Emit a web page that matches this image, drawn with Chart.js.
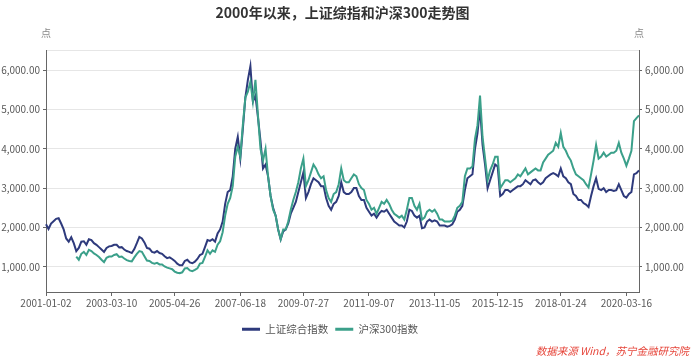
<!DOCTYPE html>
<html>
<head>
<meta charset="utf-8">
<script src="https://cdn.jsdelivr.net/npm/chart.js@4.4.1/dist/chart.umd.min.js"></script>
<style>
  html, body { margin: 0; padding: 0; background: #ffffff; }
  #wrap { width: 696px; height: 360px; position: relative; }
</style>
</head>
<body>
<div id="wrap"><canvas id="c"></canvas></div>
<script>
// ---- data (monthly readings, Jan 2001 .. Aug 2020) ----
const titleText = '2000年以来，上证综指和沪深300走势图';
const seriesNames = ['上证综合指数', '沪深300指数'];
const axisUnit = '点';
const sourceText = '数据来源 Wind，苏宁金融研究院';

const months = [];
for (let y = 2001; y <= 2020; y++) {
  for (let m = 1; m <= 12; m++) {
    if (y === 2020 && m > 8) break;
    months.push(y + '-' + String(m).padStart(2, '0'));
  }
}

const xTickLabels = ['2001-01-02', '2003-03-10', '2005-04-26', '2007-06-18', '2009-07-27',
                     '2011-09-07', '2013-11-05', '2015-12-15', '2018-01-24', '2020-03-16'];
const yTickValues = [1000, 2000, 3000, 4000, 5000, 6000];
const yMin = 360;
const yMax = 6510;

const shComposite = [
  // 2001
  2080, 1960, 2100, 2160, 2220, 2235, 2100, 1950, 1720, 1640, 1750, 1600,
  // 2002
  1400, 1480, 1640, 1650, 1560, 1700, 1680, 1600, 1560, 1500, 1440, 1380,
  // 2003
  1480, 1520, 1530, 1560, 1560, 1490, 1500, 1440, 1400, 1380, 1350, 1450,
  // 2004
  1600, 1760, 1720, 1620, 1480, 1460, 1380, 1360, 1400, 1350, 1330, 1270,
  // 2005
  1220, 1240, 1200, 1150, 1080, 1040, 1040, 1150, 1180, 1110, 1090, 1130,
  // 2006
  1200, 1300, 1330, 1500, 1680, 1660, 1700, 1640, 1850, 1950, 2150, 2600,
  // 2007
  2900, 2950, 3300, 4000, 4300, 3750, 4500, 5300, 5750, 6100, 5200, 5350,
  // 2008
  4800, 4200, 3500, 3600, 3300, 2800, 2500, 2300, 1950, 1700, 1900, 1950,
  // 2009
  2100, 2350, 2500, 2650, 2900, 3150, 3400, 2750, 2900, 3100, 3250, 3200,
  // 2010
  3150, 3050, 3050, 2750, 2550, 2450, 2600, 2650, 2800, 3150, 2900, 2850,
  // 2011
  2850, 2900, 3000, 3000, 2800, 2700, 2700, 2500, 2400, 2300, 2350, 2250,
  // 2012
  2350, 2420, 2400, 2450, 2350, 2250, 2150, 2100, 2050, 2050, 2000, 2150,
  // 2013
  2450, 2420, 2300, 2250, 2300, 1980, 2000, 2150, 2200, 2150, 2180, 2150,
  // 2014
  2050, 2050, 2050, 2020, 2040, 2080, 2200, 2400, 2450, 2550, 2950, 3250,
  // 2015
  3300, 3350, 4000, 4400, 5050, 4100, 3600, 3000, 3200, 3400, 3600, 3550,
  // 2016
  2800, 2850, 2950, 2950, 2900, 2950, 3000, 3050, 3050, 3100, 3200, 3150,
  // 2017
  3100, 3200, 3220, 3150, 3100, 3150, 3250, 3300, 3350, 3380, 3350, 3300,
  // 2018
  3500, 3300, 3250, 3150, 3100, 2850, 2800, 2700, 2700, 2620, 2580, 2520,
  // 2019
  2800, 3050, 3250, 2980, 2950, 3000, 2900, 2950, 2950, 2930, 2950, 3100,
  // 2020
  2950, 2800, 2760, 2850, 2900, 3350, 3380, 3450
];

const csi300 = [
  // 2001
  null, null, null, null, null, null, null, null, null, null, null, null,
  // 2002
  1260, 1180, 1330, 1380, 1300, 1430, 1400, 1340, 1300, 1250, 1180, 1120,
  // 2003
  1230, 1260, 1260, 1300, 1320, 1250, 1260, 1210, 1170, 1150, 1140, 1240,
  // 2004
  1330, 1400, 1380, 1270, 1160, 1150, 1100, 1080, 1100, 1060, 1060, 1010,
  // 2005
  980, 960, 940, 880, 850, 840, 860, 960, 970, 910, 890, 920,
  // 2006
  960, 1080, 1100, 1250, 1420, 1330, 1420, 1380, 1560, 1650, 1880, 2300,
  // 2007
  2600, 2750, 3050, 3800, 4050, 3800, 4600, 5300, 5450, 5700, 5200, 5750,
  // 2008
  4850, 4000, 3700, 4000, 3300, 2800, 2450, 2300, 1950, 1700, 1950, 1950,
  // 2009
  2150, 2450, 2700, 2900, 3150, 3500, 3750, 3050, 3200, 3400, 3600, 3500,
  // 2010
  3350, 3250, 3300, 2950, 2750, 2650, 2850, 2900, 3100, 3500, 3200, 3150,
  // 2011
  3150, 3250, 3350, 3300, 3100, 3000, 2950, 2700, 2600, 2450, 2500, 2350,
  // 2012
  2500, 2650, 2600, 2700, 2600, 2450, 2350, 2300, 2250, 2300, 2200, 2450,
  // 2013
  2750, 2750, 2550, 2450, 2600, 2200, 2250, 2400, 2450, 2400, 2450, 2350,
  // 2014
  2200, 2200, 2150, 2150, 2150, 2170, 2300, 2500, 2550, 2650, 3300, 3500,
  // 2015
  3500, 3550, 4250, 4600, 5350, 4300, 3750, 3200, 3450, 3600, 3800, 3800,
  // 2016
  3000, 3100, 3200, 3200, 3150, 3200, 3250, 3350, 3300, 3400, 3500, 3350,
  // 2017
  3400, 3450, 3500, 3450, 3450, 3650, 3750, 3850, 3900, 3950, 4150, 4050,
  // 2018
  4400, 4050, 3950, 3800, 3700, 3500, 3350, 3300, 3250, 3200, 3100, 3020,
  // 2019
  3350, 3700, 4100, 3750, 3800, 3900, 3800, 3850, 3900, 3900, 3950, 4150,
  // 2020
  3900, 3750, 3570, 3750, 3950, 4700, 4780, 4850
];

// ---- styling ----
const FONT = "'Noto Sans CJK SC', 'Noto Sans', sans-serif";
const navy = '#2e3a7c';
const teal = '#3ba08a';
const axisColor = '#666666';
const gridColor = '#e6e6e6';

const extraText = {
  id: 'extraText',
  afterLayout(chart) {
    // legend in the reference sits a little left of the canvas centre
    const lg = chart.legend;
    if (lg) { lg.left -= 18; lg.right -= 18; }
  },
  afterDraw(chart) {
    const { ctx, chartArea } = chart;
    ctx.save();
    ctx.font = '10px ' + FONT;
    ctx.fillStyle = '#888888';
    ctx.textAlign = 'center';
    ctx.textBaseline = 'middle';
    ctx.fillText(axisUnit, chartArea.left, chartArea.top - 17);
    ctx.fillText(axisUnit, chartArea.right, chartArea.top - 17);
    ctx.font = 'italic 10.5px ' + FONT;
    ctx.fillStyle = '#e6453a';
    ctx.textAlign = 'right';
    ctx.fillText(sourceText, chart.width - 7, chart.height - 9);
    ctx.restore();
  }
};

function fmt(v) {
  return v.toLocaleString('en-US', { minimumFractionDigits: 2, maximumFractionDigits: 2 });
}
function yTicksBuild(scale) {
  scale.ticks = yTickValues.concat([yMax]).map(v => ({ value: v }));
}
function monthOf(label) { return months.indexOf(label.slice(0, 7)); }

const yCommon = {
  min: yMin,
  max: yMax,
  afterBuildTicks: yTicksBuild,
  border: { display: true, color: axisColor, width: 1 },
  ticks: {
    color: '#595959',
    font: { family: FONT, size: 10 },
    padding: 3,
    callback: v => (yTickValues.includes(v) ? fmt(v) : '')
  }
};

new Chart(document.getElementById('c'), {
  type: 'line',
  data: {
    labels: months,
    datasets: [
      { label: seriesNames[0], data: shComposite, borderColor: navy, backgroundColor: navy,
        borderWidth: 2, pointRadius: 0, tension: 0, order: 1 },
      { label: seriesNames[1], data: csi300, borderColor: teal, backgroundColor: teal,
        borderWidth: 2, pointRadius: 0, tension: 0, order: 0 }
    ]
  },
  options: {
    responsive: true,
    maintainAspectRatio: false,
    animation: false,
    events: [],
    layout: { padding: { left: 0, right: 0, top: 0, bottom: 15.5 } },
    scales: {
      x: {
        type: 'category',
        offset: false,
        afterBuildTicks: scale => {
          scale.ticks = xTickLabels.map(l => ({ value: monthOf(l) }));
        },
        afterFit: scale => { scale.height = 25; },
        border: { display: true, color: axisColor, width: 1 },
        grid: { drawOnChartArea: false, drawTicks: true, tickLength: 4, tickColor: axisColor },
        ticks: {
          autoSkip: false, maxRotation: 0, minRotation: 0, padding: 1,
          color: '#595959',
          font: { family: FONT, size: 10 },
          callback: function (value) {
            const l = xTickLabels.find(t => monthOf(t) === value);
            return l === undefined ? null : l;
          }
        }
      },
      y: Object.assign({}, yCommon, {
        position: 'left',
        afterFit: scale => { scale.width = 46; },
        grid: {
          color: gridColor, lineWidth: 1, drawTicks: true, tickLength: 3,
          tickColor: c => (c.tick && c.tick.value === yMax ? 'rgba(0,0,0,0)' : axisColor)
        }
      }),
      y1: Object.assign({}, yCommon, {
        position: 'right',
        afterFit: scale => { scale.width = 57; },
        grid: {
          drawOnChartArea: false, drawTicks: true, tickLength: 3,
          tickColor: c => (c.tick && c.tick.value === yMax ? 'rgba(0,0,0,0)' : axisColor)
        }
      })
    },
    plugins: {
      title: {
        display: true,
        text: titleText,
        fullSize: false,
        color: '#333333',
        font: { family: FONT, size: 14, weight: 'bold' },
        padding: { top: 4, bottom: 29.2 }
      },
      legend: {
        display: true,
        position: 'bottom',
        labels: {
          usePointStyle: true,
          pointStyle: 'line',
          pointStyleWidth: 18,
          padding: 7,
          color: '#555555',
          font: { family: FONT, size: 10.5 },
          sort: (a, b) => a.datasetIndex - b.datasetIndex,
          generateLabels: chart => {
            const items = Chart.defaults.plugins.legend.labels.generateLabels(chart);
            items.forEach(it => { it.lineWidth = 3; it.pointStyle = 'line'; });
            return items;
          }
        }
      },
      tooltip: { enabled: false }
    }
  },
  plugins: [extraText]
});
</script>
</body>
</html>
